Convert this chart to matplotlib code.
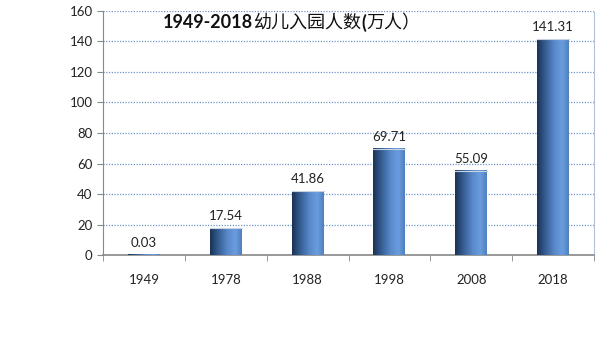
import matplotlib.pyplot as plt
import numpy as np
from matplotlib.colors import LinearSegmentedColormap

plt.rcParams['font.family'] = ['Noto Sans CJK SC', 'DejaVu Sans']

years = ['1949', '1978', '1988', '1998', '2008', '2018']
values = [0.03, 17.54, 41.86, 69.71, 55.09, 141.31]
# title pieces: (text, bold?)
title_parts = [('1949-2018', True), ('幼儿入园人数', False), ('(', True), ('万人）', False)]

# horizontal shading across each bar: dark left edge, bright right of centre
bar_cmap = LinearSegmentedColormap.from_list(
    'bar', [(0.0, '#1c3355'), (0.2, '#2f5487'), (0.55, '#5889ca'),
            (0.8, '#6a9de0'), (1.0, '#5080bc')])

num_font = ['Lato', 'DejaVu Sans']

fig = plt.figure(figsize=(6, 3.5), dpi=100)
ax = fig.add_axes([0.1717, 0.2714, 0.8183, 0.6972])

x = np.arange(len(years))
width = 0.39
grad = np.linspace(0, 1, 64).reshape(1, -1)
for xi, v in zip(x, values):
    ax.imshow(grad, cmap=bar_cmap, aspect='auto', interpolation='bilinear',
              extent=(xi - width / 2, xi + width / 2, 0, v), zorder=3)
    if v > 1:
        ax.plot([xi - width / 2, xi + width / 2], [v, v], color='#c8d4e4', lw=0.8, zorder=4)
    ax.text(xi, v + 4, f'{v:.2f}', ha='center', va='bottom', fontsize=9.5,
            family=num_font, color='#222222', zorder=5)

ax.set_xlim(-0.5, len(years) - 0.5)
ax.set_ylim(0, 160)
ax.set_yticks(np.arange(0, 161, 20))
ax.set_xticks(x)
ax.set_xticklabels(years)
ax.set_xticks(np.arange(-0.5, len(years), 1), minor=True)
ax.tick_params(axis='x', which='major', length=0, pad=14, labelsize=9.5, labelcolor='#222222')
ax.tick_params(axis='x', which='minor', length=4, color='#888888', direction='out')
ax.tick_params(axis='y', length=4, color='#888888', labelsize=9.5, labelcolor='#222222')
for lab in ax.get_xticklabels() + ax.get_yticklabels():
    lab.set_family(num_font)

ax.grid(axis='y', color='#6f95cc', linestyle=(0, (1, 1.2)), linewidth=0.9, zorder=1)
ax.spines['top'].set_visible(False)
ax.spines['right'].set_color('#a8bcd8')
ax.spines['right'].set_linestyle((0, (1, 1.2)))
ax.spines['left'].set_color('#888888')
ax.spines['bottom'].set_color('#888888')
ax.spines['bottom'].set_linewidth(1.2)

# title built from bold and regular pieces laid end to end
prev = None
for txt, bold in title_parts:
    kw = dict(fontsize=13, color='#111111', fontweight='bold' if bold else 'normal')
    if bold:
        kw['family'] = ['Lato', 'Noto Sans CJK SC']
    if prev is None:
        prev = fig.text(163 / 600, 1 - 23 / 350, txt, ha='left', va='center', **kw)
    else:
        prev = ax.annotate(txt, xy=(1, 0.5), xycoords=prev, ha='left', va='center', **kw)

fig.savefig('out.png', dpi=100)
